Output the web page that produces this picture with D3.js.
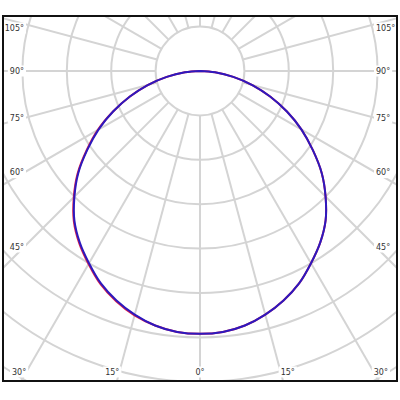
<!DOCTYPE html>
<html>
<head>
<meta charset="utf-8">
<script src="https://cdn.jsdelivr.net/npm/d3@7"></script>
<style>
  html, body { margin: 0; padding: 0; background: #fff; }
  svg { display: block; }
</style>
</head>
<body>
<div class="visualGraph"></div>
<script>
// gamma angles (deg from nadir) and intensities (cd) for each half plane
const gammaDeg = [0, 5, 10, 15, 20, 25, 30, 35, 40, 45, 50, 55, 60, 65, 70, 75, 80, 85, 90];
const iC0   = [296, 295, 291, 284, 275, 264, 250, 236, 220, 200, 179, 155, 132, 108, 84, 61, 38, 17, 0];
const iC180 = [296, 295, 291, 285, 276, 265, 251, 237, 221, 201, 180, 156, 133, 108, 84, 61, 38, 17, 0];
const iC90  = [296, 295, 291, 284, 275, 264, 250, 236, 220, 200, 179, 155, 132, 108, 84, 61, 38, 17, 0];
const iC270 = [296, 295, 291, 284, 275, 264, 250, 236, 220, 200, 179, 155, 132, 108, 84, 61, 38, 17, 0];

const intensityRings = [50, 100, 150, 200, 250, 300, 350, 400];
const spokeAngles = d3.range(0, 360, 15);
const labelAngles = [0, 15, 30, 45, 60, 75, 90, 105];

const width = 400;
const height = 400;
const frame = { x: 3, y: 16, w: 394, h: 365 };
const center = { x: 200, y: 71 };

const rScale = d3.scaleLinear().domain([0, 50]).range([0, 44.4]);
const rad = d => d * Math.PI / 180;

const svg = d3.select(".visualGraph")
    .append("svg")
    .attr("width", width)
    .attr("height", height)
    .attr("viewBox", [0, 0, width, height]);

svg.append("defs").append("clipPath")
    .attr("id", "frameClip")
    .append("rect")
    .attr("x", frame.x)
    .attr("y", frame.y)
    .attr("width", frame.w)
    .attr("height", frame.h);

const plot = svg.append("g").attr("clip-path", "url(#frameClip)");
const g = plot.append("g").attr("transform", `translate(${center.x},${center.y})`);

// rings
g.selectAll("circle.ring")
    .data(intensityRings)
    .join("circle")
    .attr("class", "ring")
    .attr("r", d => rScale(d))
    .attr("fill", "none")
    .attr("stroke", "#d4d4d4")
    .attr("stroke-width", 2);

// spokes start at the first ring
const r0 = rScale(intensityRings[0]);
const rMax = rScale(intensityRings[intensityRings.length - 1]) + 60;
g.selectAll("line.spoke")
    .data(spokeAngles)
    .join("line")
    .attr("class", "spoke")
    .attr("x1", d => r0 * Math.sin(rad(d)))
    .attr("y1", d => r0 * Math.cos(rad(d)))
    .attr("x2", d => rMax * Math.sin(rad(d)))
    .attr("y2", d => rMax * Math.cos(rad(d)))
    .attr("stroke", "#d4d4d4")
    .attr("stroke-width", 2);

// curves: left half uses angle pi + gamma, right half pi - gamma
const line = d3.lineRadial()
    .angle(d => d.a)
    .radius(d => rScale(d.v))
    .curve(d3.curveCatmullRom);

function plane(leftVals, rightVals) {
    const left = gammaDeg.map((gd, i) => ({ a: Math.PI + rad(gd), v: leftVals[i] })).reverse();
    const right = gammaDeg.map((gd, i) => ({ a: Math.PI - rad(gd), v: rightVals[i] })).slice(1);
    return left.concat(right);
}

g.append("path")
    .attr("d", line(plane(iC180, iC0)))
    .attr("fill", "none")
    .attr("stroke", "#e0204a")
    .attr("stroke-width", 2);

g.append("path")
    .attr("d", line(plane(iC270, iC90)))
    .attr("fill", "none")
    .attr("stroke", "#2d19be")
    .attr("stroke-width", 2);

// angle labels, placed where each spoke meets an inset box
const inset = {
    left: frame.x + 21,
    right: frame.x + frame.w - 21,
    top: frame.y + 12,
    bottom: frame.y + frame.h - 9
};

const labelData = [];
labelAngles.forEach(a => {
    const sides = a === 0 ? [1] : [-1, 1];
    sides.forEach(s => {
        const sx = Math.sin(rad(a)), cy = Math.cos(rad(a));
        const tSide = sx > 0 ? (s < 0 ? center.x - inset.left : inset.right - center.x) / sx : Infinity;
        const tBottom = cy > 0 ? (inset.bottom - center.y) / cy : Infinity;
        let x, y, anchor;
        if (tBottom < tSide) {
            x = center.x + s * tBottom * sx;
            y = inset.bottom;
            anchor = a === 0 ? "middle" : (s < 0 ? "end" : "start");
        } else {
            x = s < 0 ? inset.left : inset.right;
            y = Math.max(inset.top, center.y + tSide * cy);
            anchor = s < 0 ? "end" : "start";
        }
        labelData.push({ text: a + "°", x, y, anchor });
    });
});

const labels = svg.append("g")
    .selectAll("g.label")
    .data(labelData)
    .join("g")
    .attr("class", "label");

const texts = labels.append("text")
    .attr("x", d => d.x)
    .attr("y", d => d.y)
    .attr("text-anchor", d => d.anchor)
    .attr("dominant-baseline", "central")
    .attr("font-family", "DejaVu Sans, sans-serif")
    .attr("font-size", 8)
    .attr("fill", "#333")
    .text(d => d.text);

texts.each(function () {
    const b = this.getBBox();
    d3.select(this.parentNode).insert("rect", "text")
        .attr("x", b.x - 2)
        .attr("y", b.y - 1)
        .attr("width", b.width + 4)
        .attr("height", b.height + 2)
        .attr("fill", "#fff");
});

// frame
svg.append("rect")
    .attr("x", frame.x)
    .attr("y", frame.y)
    .attr("width", frame.w)
    .attr("height", frame.h)
    .attr("fill", "none")
    .attr("stroke", "#111")
    .attr("stroke-width", 2);
</script>
</body>
</html>
